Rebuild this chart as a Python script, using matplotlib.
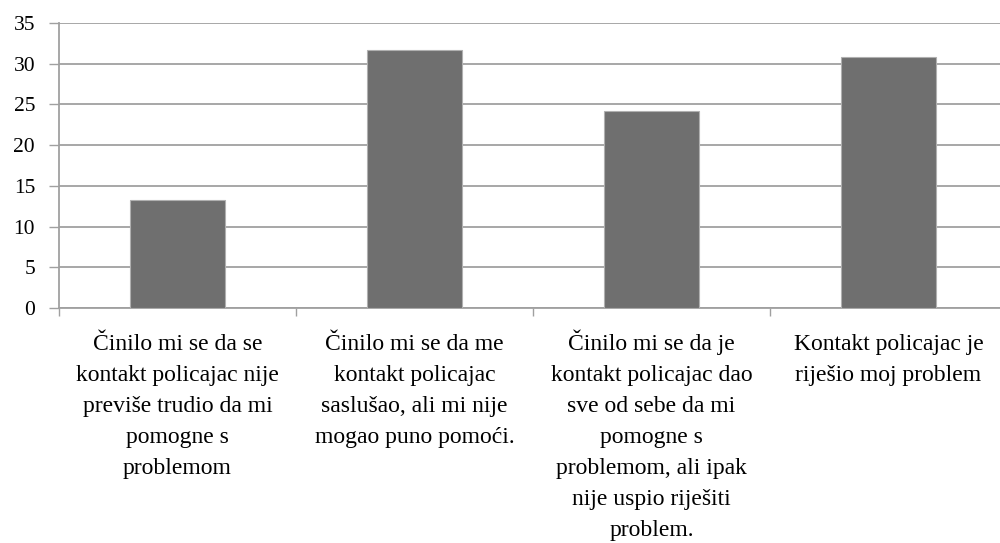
import numpy as np
import matplotlib
matplotlib.use("Agg")
from matplotlib import pyplot as plt

categories = [
    "Činilo mi se da se\nkontakt policajac nije\npreviše trudio da mi\npomogne s\nproblemom",
    "Činilo mi se da me\nkontakt policajac\nsaslušao, ali mi nije\nmogao puno pomoći.",
    "Činilo mi se da je\nkontakt policajac dao\nsve od sebe da mi\npomogne s\nproblemom, ali ipak\nnije uspio riješiti\nproblem.",
    "Kontakt policajac je\nriješio moj problem",
]
values = [13.3, 31.7, 24.2, 30.8]
yticks = [0, 5, 10, 15, 20, 25, 30, 35]

plt.rcParams['font.family'] = ['Liberation Serif', 'DejaVu Serif']
grey = '#a0a0a0'

fig = plt.figure(figsize=(10, 5.43), dpi=100)
# axes runs past the right edge, like the cropped original
ax = fig.add_axes([0.059, 0.4328, 0.948, 0.5249])

x = np.arange(len(values)) + 0.5
ax.bar(x, values, width=0.4, color='#6f6f6f', edgecolor='#b0b0b0', linewidth=0.8, zorder=3)

ax.set_xlim(0, 4)
ax.set_ylim(0, 35)
ax.set_yticks(yticks)
ax.yaxis.grid(True, color=grey, linewidth=1.3, zorder=0)
ax.tick_params(axis='y', length=7.2, width=1, color=grey, pad=10, labelsize=15.5)

ax.set_xticks(np.arange(5))
ax.set_xticklabels([])
ax.tick_params(axis='x', which='major', length=6, width=1, color=grey)

# category labels, one line at a time so every first line sits on the same baseline
for xi, lab in zip(x, categories):
    for i, line in enumerate(lab.split('\n')):
        ax.annotate(line, xy=(xi, 0), xycoords=('data', 'axes fraction'),
                    xytext=(0, -30.2 - 22.3 * i), textcoords='offset points',
                    ha='center', va='baseline', fontsize=17,
                    annotation_clip=False)

for s in ['top', 'right']:
    ax.spines[s].set_visible(False)
for s in ['left', 'bottom']:
    ax.spines[s].set_color(grey)
    ax.spines[s].set_linewidth(1.3)

fig.savefig('out.png', dpi=100)
